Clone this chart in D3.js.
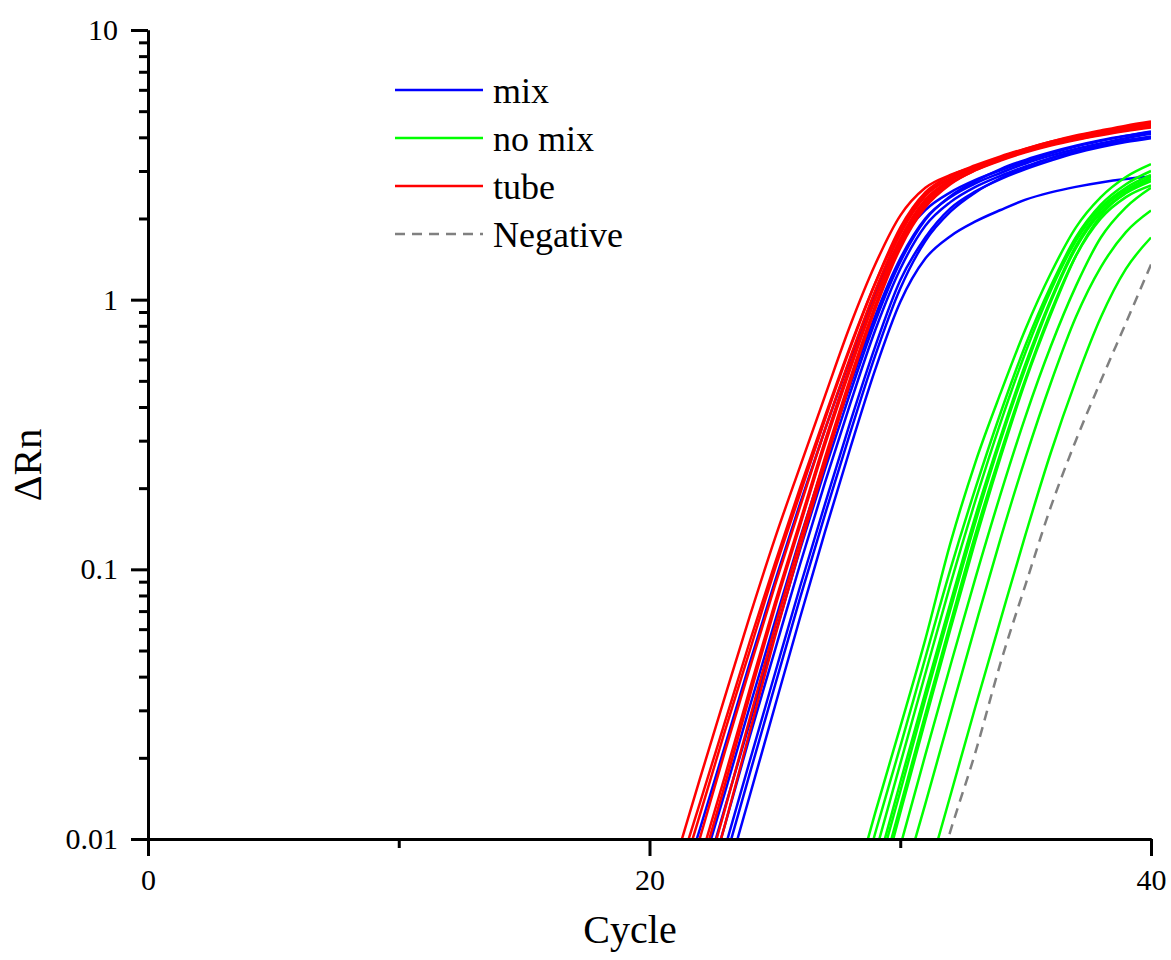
<!DOCTYPE html>
<html>
<head>
<meta charset="utf-8">
<script src="https://cdn.jsdelivr.net/npm/d3@7/dist/d3.min.js"></script>
<style>
  body { margin: 0; background: #fff; }
  svg { display: block; font-family: "Liberation Serif", "Times New Roman", serif; }
  svg text { font-family: "Liberation Serif", "Times New Roman", serif !important; }
</style>
</head>
<body>
<div id="chart"></div>
<script>
// ---- data ----
const seriesNames = ["mix", "no mix", "tube", "Negative"];

// first cycle of each curve, values follow at every integer cycle up to 40
const mixStart = [21, 22, 22, 22, 23, 23, 23];
const mixValues = [
  [0.0055, 0.0108, 0.022, 0.045, 0.09, 0.175, 0.33, 0.6, 1.05, 1.65, 2.15, 2.5, 2.78, 3.02, 3.25, 3.48, 3.7, 3.88, 4.05, 4.2],
  [0.0072, 0.0148, 0.031, 0.064, 0.13, 0.255, 0.48, 0.87, 1.42, 2.0, 2.4, 2.7, 2.95, 3.2, 3.42, 3.62, 3.8, 3.97, 4.12],
  [0.0062, 0.013, 0.027, 0.057, 0.118, 0.235, 0.45, 0.83, 1.38, 1.98, 2.42, 2.75, 3.05, 3.3, 3.52, 3.72, 3.9, 4.05, 4.18],
  [0.0053, 0.0112, 0.024, 0.05, 0.104, 0.21, 0.41, 0.77, 1.3, 1.88, 2.3, 2.62, 2.88, 3.12, 3.35, 3.55, 3.72, 3.88, 4.0],
  [0.0092, 0.0195, 0.041, 0.086, 0.175, 0.35, 0.67, 1.18, 1.7, 2.18, 2.52, 2.8, 3.05, 3.28, 3.5, 3.68, 3.84, 3.97],
  [0.0082, 0.0175, 0.037, 0.078, 0.16, 0.32, 0.62, 1.1, 1.65, 2.12, 2.5, 2.82, 3.1, 3.35, 3.55, 3.74, 3.9, 4.03],
  [0.0068, 0.0145, 0.031, 0.066, 0.138, 0.28, 0.55, 0.98, 1.42, 1.72, 1.95, 2.15, 2.35, 2.5, 2.62, 2.72, 2.8, 2.86]
];

const noMixStart = [28, 28, 29, 29, 29, 29, 29, 30, 30, 31];
const noMixValues = [
  [0.0058, 0.0125, 0.026, 0.055, 0.125, 0.25, 0.45, 0.78, 1.25, 1.85, 2.4, 2.85, 3.18],
  [0.0048, 0.0105, 0.022, 0.047, 0.1, 0.2, 0.38, 0.68, 1.12, 1.7, 2.25, 2.68, 3.0],
  [0.0088, 0.019, 0.041, 0.088, 0.18, 0.35, 0.64, 1.08, 1.65, 2.2, 2.6, 2.9],
  [0.0074, 0.0162, 0.035, 0.075, 0.158, 0.31, 0.58, 1.0, 1.58, 2.15, 2.55, 2.85],
  [0.0069, 0.015, 0.033, 0.071, 0.15, 0.3, 0.56, 0.98, 1.55, 2.1, 2.48, 2.75],
  [0.006, 0.0132, 0.029, 0.063, 0.135, 0.27, 0.51, 0.9, 1.45, 2.0, 2.4, 2.65],
  [0.0056, 0.0125, 0.0275, 0.06, 0.128, 0.26, 0.5, 0.88, 1.45, 2.05, 2.5, 2.8],
  [0.0094, 0.0205, 0.044, 0.093, 0.19, 0.37, 0.67, 1.12, 1.7, 2.2, 2.6],
  [0.0064, 0.0135, 0.029, 0.062, 0.13, 0.26, 0.49, 0.86, 1.32, 1.78, 2.14],
  [0.0068, 0.0145, 0.031, 0.065, 0.135, 0.27, 0.5, 0.86, 1.3, 1.7]
];

const tubeStart = [21, 21, 21, 21, 22, 22, 22, 22];
const tubeValues = [
  [0.0081, 0.0166, 0.0335, 0.067, 0.13, 0.24, 0.44, 0.8, 1.35, 2.05, 2.6, 2.9, 3.12, 3.35, 3.57, 3.78, 3.98, 4.18, 4.35, 4.5],
  [0.0068, 0.0135, 0.027, 0.054, 0.105, 0.2, 0.37, 0.67, 1.15, 1.8, 2.45, 2.82, 3.1, 3.35, 3.58, 3.78, 3.97, 4.14, 4.3, 4.42],
  [0.006, 0.0122, 0.025, 0.05, 0.1, 0.19, 0.36, 0.66, 1.15, 1.85, 2.5, 2.88, 3.15, 3.4, 3.63, 3.85, 4.03, 4.21, 4.37, 4.52],
  [0.0048, 0.01, 0.021, 0.043, 0.087, 0.17, 0.33, 0.61, 1.08, 1.75, 2.42, 2.82, 3.1, 3.36, 3.6, 3.82, 4.0, 4.17, 4.32, 4.45],
  [0.0082, 0.017, 0.036, 0.075, 0.15, 0.3, 0.57, 1.02, 1.68, 2.35, 2.78, 3.08, 3.35, 3.58, 3.8, 3.98, 4.16, 4.33, 4.48],
  [0.0075, 0.0158, 0.034, 0.072, 0.145, 0.29, 0.55, 1.0, 1.65, 2.3, 2.75, 3.08, 3.37, 3.62, 3.85, 4.06, 4.24, 4.42, 4.58],
  [0.006, 0.0128, 0.028, 0.061, 0.128, 0.26, 0.51, 0.95, 1.6, 2.25, 2.7, 3.02, 3.28, 3.52, 3.73, 3.91, 4.07, 4.22, 4.35],
  [0.0052, 0.0112, 0.025, 0.056, 0.12, 0.245, 0.49, 0.92, 1.55, 2.2, 2.68, 3.02, 3.3, 3.54, 3.75, 3.93, 4.1, 4.25, 4.38]
];

const negativeStart = [31];
const negativeValues = [
  [0.0052, 0.0107, 0.021, 0.045, 0.088, 0.17, 0.3, 0.5, 0.82, 1.35]
];

const xTicks = [0, 20, 40];
const xMinorTicks = [10, 30];
const yTicks = [0.01, 0.1, 1, 10];
const yTickLabels = ["0.01", "0.1", "1", "10"];

// ---- drawing ----
const W = 1171, H = 960;
const plot = { left: 148, right: 1151, top: 30, bottom: 839 };
const serif = "'Liberation Serif', 'Times New Roman', serif";

const svg = d3.select("#chart").append("svg")
  .attr("width", W)
  .attr("height", H);

const x = d3.scaleLinear().domain([0, 40]).range([plot.left, plot.right]);
const y = d3.scaleLog().domain([0.01, 10]).range([plot.bottom, plot.top]);

svg.append("clipPath").attr("id", "plot-clip")
  .append("rect")
  .attr("x", plot.left)
  .attr("y", plot.top)
  .attr("width", plot.right - plot.left)
  .attr("height", plot.bottom - plot.top);

const toPoints = (start, vals) => vals.map((v, i) => [start + i, v]);

const line = d3.line()
  .x(d => x(d[0]))
  .y(d => y(d[1]))
  .curve(d3.curveMonotoneX);

const groups = [
  { name: seriesNames[0], start: mixStart, values: mixValues, color: "#0000ff", dash: null },
  { name: seriesNames[1], start: noMixStart, values: noMixValues, color: "#00ff00", dash: null },
  { name: seriesNames[2], start: tubeStart, values: tubeValues, color: "#ff0000", dash: null },
  { name: seriesNames[3], start: negativeStart, values: negativeValues, color: "#808080", dash: "10,7" }
];

const curves = svg.append("g").attr("clip-path", "url(#plot-clip)");

groups.forEach(g => {
  curves.append("g")
    .selectAll("path")
    .data(g.values.map((v, i) => toPoints(g.start[i], v)))
    .enter()
    .append("path")
    .attr("d", line)
    .attr("fill", "none")
    .attr("stroke", g.color)
    .attr("stroke-width", 2.5)
    .attr("stroke-dasharray", g.dash);
});

// axes
const styleAxis = sel => {
  sel.attr("font-family", null).attr("font-size", null);
  sel.select(".domain").attr("stroke", "#000").attr("stroke-width", 3);
  sel.selectAll(".tick line").attr("stroke", "#000").attr("stroke-width", 3);
  sel.selectAll(".tick text")
    .attr("fill", "#000")
    .style("font-family", serif)
    .style("font-size", "30px");
};

// minor y ticks
const yMinor = [];
[0.01, 0.1, 1].forEach(d => { for (let k = 2; k <= 9; k++) yMinor.push(d * k); });

svg.append("g")
  .attr("transform", `translate(${plot.left},0)`)
  .call(d3.axisLeft(y).tickValues(yMinor).tickSize(9).tickSizeOuter(0).tickFormat(""))
  .call(styleAxis);

svg.append("g")
  .attr("transform", `translate(${plot.left},0)`)
  .call(d3.axisLeft(y).tickValues(yTicks).tickSize(17).tickSizeOuter(0)
    .tickFormat((d, i) => yTickLabels[i]).tickPadding(13))
  .call(styleAxis);

svg.append("g")
  .attr("transform", `translate(0,${plot.bottom})`)
  .call(d3.axisBottom(x).tickValues(xMinorTicks).tickSize(9).tickSizeOuter(0).tickFormat(""))
  .call(styleAxis);

svg.append("g")
  .attr("transform", `translate(0,${plot.bottom})`)
  .call(d3.axisBottom(x).tickValues(xTicks).tickSize(17).tickSizeOuter(0).tickPadding(13))
  .call(styleAxis);

// axis titles
svg.append("text")
  .attr("x", 630)
  .attr("y", 943)
  .attr("text-anchor", "middle")
  .style("font-size", "40px")
  .text("Cycle");

svg.append("text")
  .attr("transform", "translate(41,465) rotate(-90)")
  .attr("text-anchor", "middle")
  .style("font-size", "40px")
  .text("\u0394Rn");

// legend
const legend = svg.append("g").attr("transform", "translate(395,90)");
groups.forEach((g, i) => {
  const row = legend.append("g").attr("transform", `translate(0,${i * 48})`);
  row.append("line")
    .attr("x1", 0).attr("x2", 88)
    .attr("y1", 0).attr("y2", 0)
    .attr("stroke", g.color)
    .attr("stroke-width", 2.5)
    .attr("stroke-dasharray", g.dash);
  row.append("text")
    .attr("x", 98)
    .attr("y", 13)
    .style("font-size", "36px")
    .text(g.name);
});
</script>
</body>
</html>
